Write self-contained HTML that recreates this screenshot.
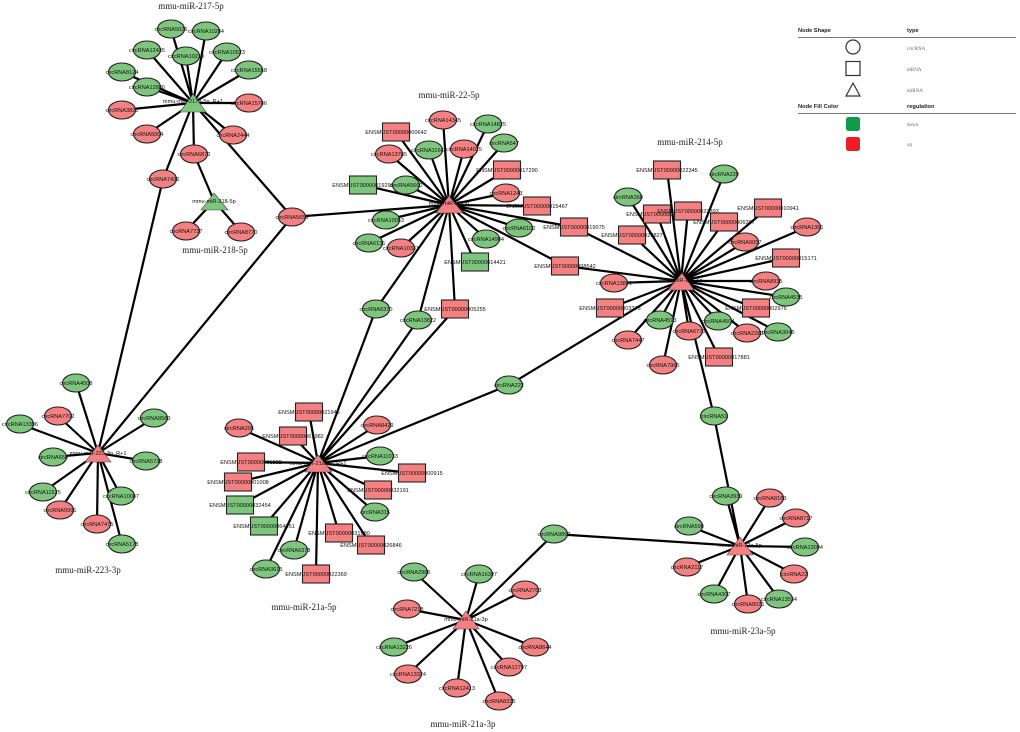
<!DOCTYPE html>
<html><head><meta charset="utf-8"><style>
html,body{margin:0;padding:0;background:#fff}
svg{display:block;filter:blur(.3px)}
.e{fill:none;stroke:#000;stroke-width:2.2}
ellipse{rx:13.5px;ry:9px;stroke:#222;stroke-width:1.1}
.n rect{x:-13.5px;y:-9px;width:27px;height:18px;stroke:#222;stroke-width:1.1}
.r ellipse,.r rect,.r polygon{fill:#f58082}
.g ellipse,.g rect,.g polygon{fill:#7ec67e}
.r polygon,.g polygon{stroke:#444;stroke-width:.6}
text{font-family:"Liberation Sans",sans-serif;font-size:5.6px;fill:#111;text-anchor:middle}
.n text{transform:translateY(2px)}
.t{font-family:"Liberation Serif",serif;font-size:9px;fill:#222}
.l{font-size:5.7px;font-weight:bold;text-anchor:start;fill:#222}
.s{font-family:"Liberation Serif",serif;font-size:5px;text-anchor:start;fill:#666}
.k{fill:#fff;stroke:#333;stroke-width:1.2}
</style></head><body>
<svg width="1020" height="732" viewBox="0 0 1020 732" xmlns="http://www.w3.org/2000/svg">
<rect width="1020" height="732" fill="#fff"/>
<path class="e" d="M193 103L171 29M193 103L206 31M193 103L147 50M193 103L186 56M193 103L227 52M193 103L249 70M193 103L122 72M193 103L147 87M193 103L122 110M193 103L249 103M193 103L147 134M193 103L233 135M193 103L194 154M193 103L163 179M193 103L292 217M194 154L214 201M214 201L186 231M214 201L241 232M163 179L98 453M292 217L98 453M292 217L449 205"/>
<path class="e" d="M449 205L443 120M449 205L488 124M449 205L396 132M449 205L504 143M449 205L389 154M449 205L429 150M449 205L464 149M449 205L507 170M449 205L363 185M449 205L406 185M449 205L506 193M449 205L537 206M449 205L386 220M449 205L519 228M449 205L574 227M449 205L369 243M449 205L401 248M449 205L486 239M449 205L475 262M449 205L565 266M449 205L455 309M449 205L376 309M449 205L418 320M376 309L318 463M418 320L318 463M455 309L318 463M574 227L681 281M565 266L681 281"/>
<path class="e" d="M681 281L667 170M681 281L724 174M681 281L628 197M681 281L768 208M681 281L657 214M681 281L688 211M681 281L724 222M681 281L632 235M681 281L807 227M681 281L745 242M681 281L786 258M681 281L614 283M681 281L766 281M681 281L786 297M681 281L610 308M681 281L756 308M681 281L660 320M681 281L718 321M681 281L689 331M681 281L747 333M681 281L778 332M681 281L628 340M681 281L663 365M681 281L719 357M681 281L509 385M509 385L318 463M681 281L714 416M714 416L740 546"/>
<path class="e" d="M318 463L309 412M318 463L239 428M318 463L377 425M318 463L293 436M318 463L380 456M318 463L251 462M318 463L412 473M318 463L238 482M318 463L378 490M318 463L240 505M318 463L375 512M318 463L264 526M318 463L339 533M318 463L371 545M318 463L294 550M318 463L266 569M318 463L316 574"/>
<path class="e" d="M98 453L76 383M98 453L58 416M98 453L20 424M98 453L154 418M98 453L53 457M98 453L146 461M98 453L43 492M98 453L121 496M98 453L60 510M98 453L97 524M98 453L122 544"/>
<path class="e" d="M466 620L414 572M466 620L479 574M466 620L525 590M466 620L407 609M466 620L394 647M466 620L535 647M466 620L509 667M466 620L408 674M466 620L457 688M466 620L499 701M466 620L554 534M554 534L740 546"/>
<path class="e" d="M740 546L726 496M740 546L770 498M740 546L796 518M740 546L689 526M740 546L805 547M740 546L687 567M740 546L794 574M740 546L714 594M740 546L779 599M740 546L748 604"/>

<g class="n g" transform="translate(171 29)"><ellipse/><text>circRNA5026</text></g>
<g class="n g" transform="translate(206 31)"><ellipse/><text>circRNA10284</text></g>
<g class="n g" transform="translate(147 50)"><ellipse/><text>circRNA12435</text></g>
<g class="n g" transform="translate(186 56)"><ellipse/><text>circRNA10219</text></g>
<g class="n g" transform="translate(227 52)"><ellipse/><text>circRNA10523</text></g>
<g class="n g" transform="translate(249 70)"><ellipse/><text>circRNA15558</text></g>
<g class="n g" transform="translate(122 72)"><ellipse/><text>circRNA8124</text></g>
<g class="n g" transform="translate(147 87)"><ellipse/><text>circRNA12886</text></g>
<g class="n r" transform="translate(122 110)"><ellipse/><text>circRNA3821</text></g>
<g class="n r" transform="translate(249 103)"><ellipse/><text>circRNA15786</text></g>
<g class="n r" transform="translate(147 134)"><ellipse/><text>circRNA5004</text></g>
<g class="n r" transform="translate(233 135)"><ellipse/><text>circRNA2444</text></g>
<g class="n r" transform="translate(194 154)"><ellipse/><text>circRNA6872</text></g>
<g class="n r" transform="translate(163 179)"><ellipse/><text>circRNA7436</text></g>
<g class="n r" transform="translate(186 231)"><ellipse/><text>circRNA7737</text></g>
<g class="n r" transform="translate(241 232)"><ellipse/><text>circRNA8770</text></g>
<g class="n r" transform="translate(292 217)"><ellipse/><text>circRNA5659</text></g>

<g class="n r" transform="translate(443 120)"><ellipse/><text>circRNA14345</text></g>
<g class="n g" transform="translate(488 124)"><ellipse/><text>circRNA14825</text></g>
<g class="n r" transform="translate(396 132)"><rect/><text>ENSMUST00000000642</text></g>
<g class="n g" transform="translate(504 143)"><ellipse/><text>circRNA547</text></g>
<g class="n r" transform="translate(389 154)"><ellipse/><text>circRNA13785</text></g>
<g class="n g" transform="translate(429 150)"><ellipse/><text>circRNA11661</text></g>
<g class="n r" transform="translate(464 149)"><ellipse/><text>circRNA14025</text></g>
<g class="n r" transform="translate(507 170)"><rect/><text>ENSMUST00000017290</text></g>
<g class="n g" transform="translate(363 185)"><rect/><text>ENSMUST00000019290</text></g>
<g class="n g" transform="translate(406 185)"><ellipse/><text>circRNA5660</text></g>
<g class="n r" transform="translate(506 193)"><ellipse/><text>circRNA1243</text></g>
<g class="n r" transform="translate(537 206)"><rect/><text>ENSMUST00000015467</text></g>
<g class="n g" transform="translate(386 220)"><ellipse/><text>circRNA10053</text></g>
<g class="n g" transform="translate(519 228)"><ellipse/><text>circRNA6102</text></g>
<g class="n r" transform="translate(574 227)"><rect/><text>ENSMUST00000019075</text></g>
<g class="n g" transform="translate(369 243)"><ellipse/><text>circRNA6131</text></g>
<g class="n r" transform="translate(401 248)"><ellipse/><text>circRNA10331</text></g>
<g class="n g" transform="translate(486 239)"><ellipse/><text>circRNA14984</text></g>
<g class="n g" transform="translate(475 262)"><rect/><text>ENSMUST00000014421</text></g>
<g class="n r" transform="translate(565 266)"><rect/><text>ENSMUST00000098542</text></g>
<g class="n r" transform="translate(455 309)"><rect/><text>ENSMUST00000005255</text></g>
<g class="n g" transform="translate(376 309)"><ellipse/><text>circRNA6370</text></g>
<g class="n g" transform="translate(418 320)"><ellipse/><text>circRNA13822</text></g>

<g class="n r" transform="translate(667 170)"><rect/><text>ENSMUST00000022345</text></g>
<g class="n g" transform="translate(724 174)"><ellipse/><text>circRNA229</text></g>
<g class="n g" transform="translate(628 197)"><ellipse/><text>circRNA360</text></g>
<g class="n r" transform="translate(768 208)"><rect/><text>ENSMUST00000010941</text></g>
<g class="n r" transform="translate(657 214)"><rect/><text>ENSMUST00000020325</text></g>
<g class="n r" transform="translate(688 211)"><rect/><text>ENSMUST00000022393</text></g>
<g class="n r" transform="translate(724 222)"><rect/><text>ENSMUST00000006387</text></g>
<g class="n r" transform="translate(632 235)"><rect/><text>ENSMUST00000020827</text></g>
<g class="n r" transform="translate(807 227)"><ellipse/><text>circRNA1361</text></g>
<g class="n r" transform="translate(745 242)"><ellipse/><text>circRNA9057</text></g>
<g class="n r" transform="translate(786 258)"><rect/><text>ENSMUST00000015171</text></g>
<g class="n r" transform="translate(614 283)"><ellipse/><text>circRNA13801</text></g>
<g class="n r" transform="translate(766 281)"><ellipse/><text>circRNA8935</text></g>
<g class="n g" transform="translate(786 297)"><ellipse/><text>circRNA4535</text></g>
<g class="n r" transform="translate(610 308)"><rect/><text>ENSMUST00000003373</text></g>
<g class="n r" transform="translate(756 308)"><rect/><text>ENSMUST00000002976</text></g>
<g class="n g" transform="translate(660 320)"><ellipse/><text>circRNA4593</text></g>
<g class="n g" transform="translate(718 321)"><ellipse/><text>circRNA4504</text></g>
<g class="n r" transform="translate(689 331)"><ellipse/><text>circRNA6771</text></g>
<g class="n r" transform="translate(747 333)"><ellipse/><text>circRNA2283</text></g>
<g class="n g" transform="translate(778 332)"><ellipse/><text>circRNA3045</text></g>
<g class="n r" transform="translate(628 340)"><ellipse/><text>circRNA7447</text></g>
<g class="n r" transform="translate(663 365)"><ellipse/><text>circRNA7965</text></g>
<g class="n r" transform="translate(719 357)"><rect/><text>ENSMUST00000017881</text></g>
<g class="n g" transform="translate(509 385)"><ellipse/><text>circRNA222</text></g>
<g class="n g" transform="translate(714 416)"><ellipse/><text>circRNA51</text></g>

<g class="n r" transform="translate(309 412)"><rect/><text>ENSMUST00000021945</text></g>
<g class="n r" transform="translate(239 428)"><ellipse/><text>circRNA295</text></g>
<g class="n r" transform="translate(377 425)"><ellipse/><text>circRNA8429</text></g>
<g class="n r" transform="translate(293 436)"><rect/><text>ENSMUST00000061982</text></g>
<g class="n g" transform="translate(380 456)"><ellipse/><text>circRNA11033</text></g>
<g class="n r" transform="translate(251 462)"><rect/><text>ENSMUST00000091332</text></g>
<g class="n r" transform="translate(412 473)"><rect/><text>ENSMUST00000000915</text></g>
<g class="n r" transform="translate(238 482)"><rect/><text>ENSMUST00000001008</text></g>
<g class="n r" transform="translate(378 490)"><rect/><text>ENSMUST00000032191</text></g>
<g class="n g" transform="translate(240 505)"><rect/><text>ENSMUST00000032454</text></g>
<g class="n g" transform="translate(375 512)"><ellipse/><text>circRNA315</text></g>
<g class="n g" transform="translate(264 526)"><rect/><text>ENSMUST00000064951</text></g>
<g class="n r" transform="translate(339 533)"><rect/><text>ENSMUST00000031680</text></g>
<g class="n r" transform="translate(371 545)"><rect/><text>ENSMUST00000026846</text></g>
<g class="n g" transform="translate(294 550)"><ellipse/><text>circRNA6378</text></g>
<g class="n g" transform="translate(266 569)"><ellipse/><text>circRNA3615</text></g>
<g class="n r" transform="translate(316 574)"><rect/><text>ENSMUST00000022369</text></g>

<g class="n g" transform="translate(76 383)"><ellipse/><text>circRNA4508</text></g>
<g class="n r" transform="translate(58 416)"><ellipse/><text>circRNA7702</text></g>
<g class="n g" transform="translate(20 424)"><ellipse/><text>circRNA13396</text></g>
<g class="n g" transform="translate(154 418)"><ellipse/><text>circRNA8583</text></g>
<g class="n g" transform="translate(53 457)"><ellipse/><text>circRNA658</text></g>
<g class="n g" transform="translate(146 461)"><ellipse/><text>circRNA5738</text></g>
<g class="n g" transform="translate(43 492)"><ellipse/><text>circRNA11525</text></g>
<g class="n g" transform="translate(121 496)"><ellipse/><text>circRNA10087</text></g>
<g class="n r" transform="translate(60 510)"><ellipse/><text>circRNA9991</text></g>
<g class="n r" transform="translate(97 524)"><ellipse/><text>circRNA7475</text></g>
<g class="n g" transform="translate(122 544)"><ellipse/><text>circRNA5178</text></g>

<g class="n g" transform="translate(414 572)"><ellipse/><text>circRNA2985</text></g>
<g class="n g" transform="translate(479 574)"><ellipse/><text>circRNA16397</text></g>
<g class="n r" transform="translate(525 590)"><ellipse/><text>circRNA2763</text></g>
<g class="n r" transform="translate(407 609)"><ellipse/><text>circRNA7218</text></g>
<g class="n g" transform="translate(394 647)"><ellipse/><text>circRNA13226</text></g>
<g class="n r" transform="translate(535 647)"><ellipse/><text>circRNA8644</text></g>
<g class="n r" transform="translate(509 667)"><ellipse/><text>circRNA12797</text></g>
<g class="n r" transform="translate(408 674)"><ellipse/><text>circRNA13324</text></g>
<g class="n r" transform="translate(457 688)"><ellipse/><text>circRNA12413</text></g>
<g class="n r" transform="translate(499 701)"><ellipse/><text>circRNA8335</text></g>
<g class="n g" transform="translate(554 534)"><ellipse/><text>circRNA9892</text></g>

<g class="n g" transform="translate(726 496)"><ellipse/><text>circRNA3939</text></g>
<g class="n r" transform="translate(770 498)"><ellipse/><text>circRNA8183</text></g>
<g class="n r" transform="translate(796 518)"><ellipse/><text>circRNA8717</text></g>
<g class="n g" transform="translate(689 526)"><ellipse/><text>circRNA598</text></g>
<g class="n g" transform="translate(805 547)"><ellipse/><text>circRNA13094</text></g>
<g class="n r" transform="translate(687 567)"><ellipse/><text>circRNA2117</text></g>
<g class="n r" transform="translate(794 574)"><ellipse/><text>circRNA22</text></g>
<g class="n g" transform="translate(714 594)"><ellipse/><text>circRNA4307</text></g>
<g class="n g" transform="translate(779 599)"><ellipse/><text>circRNA13534</text></g>
<g class="n r" transform="translate(748 604)"><ellipse/><text>circRNA8021</text></g>

<g class="g"><polygon points="193,94 180,112 206,112"/><text x="193" y="103">mmu-miR-217a-5p_R+1</text></g>
<g class="g"><polygon points="214,193 201,210 228,210"/><text x="214" y="203">mmu-miR-218-5p</text></g>
<g class="r"><polygon points="449,196 436,213 463,213"/><text x="449" y="205">mmu-miR-22-5p</text></g>
<g class="r"><polygon points="682,273 668,290 694,290"/><text x="681" y="282">mmu-miR-214-5p</text></g>
<g class="r"><polygon points="318,455 305,472 332,472"/><text x="318" y="465">mmu-miR-21a-5p_R+1</text></g>
<g class="r"><polygon points="98,445 85,462 111,462"/><text x="98" y="455">mmu-miR-223-3p_R+1</text></g>
<g class="r"><polygon points="466,611 453,629 479,629"/><text x="466" y="621">mmu-miR-21a-3p</text></g>
<g class="r"><polygon points="740,537 727,555 753,555"/><text x="740" y="547">mmu-miR-23a-5p</text></g>

<text class="t" x="191" y="9">mmu-miR-217-5p</text>
<text class="t" x="215" y="253">mmu-miR-218-5p</text>
<text class="t" x="449" y="98">mmu-miR-22-5p</text>
<text class="t" x="690" y="145">mmu-miR-214-5p</text>
<text class="t" x="88" y="573">mmu-miR-223-3p</text>
<text class="t" x="304" y="610">mmu-miR-21a-5p</text>
<text class="t" x="463" y="727">mmu-miR-21a-3p</text>
<text class="t" x="743" y="634">mmu-miR-23a-5p</text>

<text class="l" x="798" y="32">Node Shape</text>
<text class="l" x="907" y="32">type</text>
<path d="M798 37.5H1016" stroke="#777" stroke-width="1"/>
<circle class="k" cx="853" cy="47" r="7"/>
<rect class="k" x="846" y="61.500" width="14" height="14"/>
<polygon class="k" points="853,83 846,96 860,96"/>
<text class="s" x="907" y="50">circRNA</text>
<text class="s" x="907" y="71">mRNA</text>
<text class="s" x="907" y="92">miRNA</text>
<text class="l" x="798" y="108">Node Fill Color</text>
<text class="l" x="907" y="108">regulation</text>
<path d="M798 113.500H1016" stroke="#777" stroke-width="1"/>
<rect x="846" y="117" width="14" height="14" rx="2.500" fill="#119a48"/>
<rect x="846" y="137" width="14" height="14" rx="2.500" fill="#ee1c25"/>
<text class="s" x="907" y="126">down</text>
<text class="s" x="907" y="146">up</text>
</svg>
</body></html>
